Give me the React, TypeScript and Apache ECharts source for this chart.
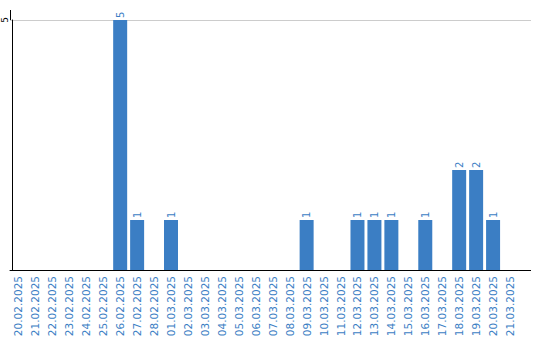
import React, { useEffect, useRef } from "react";
import * as echarts from "echarts";

const categories = [
  "20.02.2025", "21.02.2025", "22.02.2025", "23.02.2025", "24.02.2025", "25.02.2025",
  "26.02.2025", "27.02.2025", "28.02.2025", "01.03.2025", "02.03.2025", "03.03.2025",
  "04.03.2025", "05.03.2025", "06.03.2025", "07.03.2025", "08.03.2025", "09.03.2025",
  "10.03.2025", "11.03.2025", "12.03.2025", "13.03.2025", "14.03.2025", "15.03.2025",
  "16.03.2025", "17.03.2025", "18.03.2025", "19.03.2025", "20.03.2025", "21.03.2025",
];
const counts = [
  0, 0, 0, 0, 0, 0,
  5, 1, 0, 1, 0, 0,
  0, 0, 0, 0, 0, 1,
  0, 0, 1, 1, 1, 0,
  1, 0, 2, 2, 1, 0,
];
const yTicks = [5];

const BLUE = "#3b7ec4";
const FONT = "DejaVu Sans";

export default function App() {
  const ref = useRef<HTMLDivElement>(null);
  useEffect(() => {
    if (!ref.current) return;
    const chart = echarts.init(ref.current, undefined, { renderer: "svg" });
    chart.setOption({
      animation: false,
      grid: { left: 8.5, right: 21.5, top: 20, bottom: 70, containLabel: false },
      xAxis: {
        type: "category",
        data: categories,
        axisLine: { lineStyle: { color: "#000", width: 1 } },
        axisTick: { show: false },
        axisLabel: {
          rotate: 90,
          interval: 0,
          margin: 6,
          color: BLUE,
          fontFamily: FONT,
          fontSize: 10.5,
        },
      },
      yAxis: {
        type: "value",
        min: 0,
        max: 5,
        interval: 5,
        offset: -2,
        axisLine: { show: true, lineStyle: { color: "#000", width: 1 } },
        axisTick: { show: false },
        splitLine: { show: true, lineStyle: { color: "#cccccc", width: 1 } },
        axisLabel: {
          rotate: 90,
          margin: 3,
          color: "#000",
          fontFamily: FONT,
          fontSize: 9,
          formatter: (v: number) => (yTicks.includes(v) ? String(v) : ""),
        },
      },
      series: [
        {
          type: "bar",
          data: counts.map((v) => (v === 0 ? null : v)),
          barWidth: 14,
          itemStyle: { color: BLUE },
          label: {
            show: true,
            position: "top",
            rotate: 90,
            align: "left",
            verticalAlign: "middle",
            distance: 2,
            color: BLUE,
            fontFamily: FONT,
            fontSize: 10,
          },
        },
      ],
      graphic: [
        { type: "line", shape: { x1: 518, y1: 270.5, x2: 531, y2: 270.5 }, style: { stroke: "#000", lineWidth: 1 } },
        { type: "line", shape: { x1: 518, y1: 20.5, x2: 531, y2: 20.5 }, style: { stroke: "#cccccc", lineWidth: 1 } },
        { type: "line", shape: { x1: 10.5, y1: 10, x2: 10.5, y2: 21 }, style: { stroke: "#000", lineWidth: 1 } },
      ],
    });
    return () => chart.dispose();
  }, []);
  return <div ref={ref} style={{ width: 540, height: 340, position: "absolute", left: 0, top: 0 }} />;
}
